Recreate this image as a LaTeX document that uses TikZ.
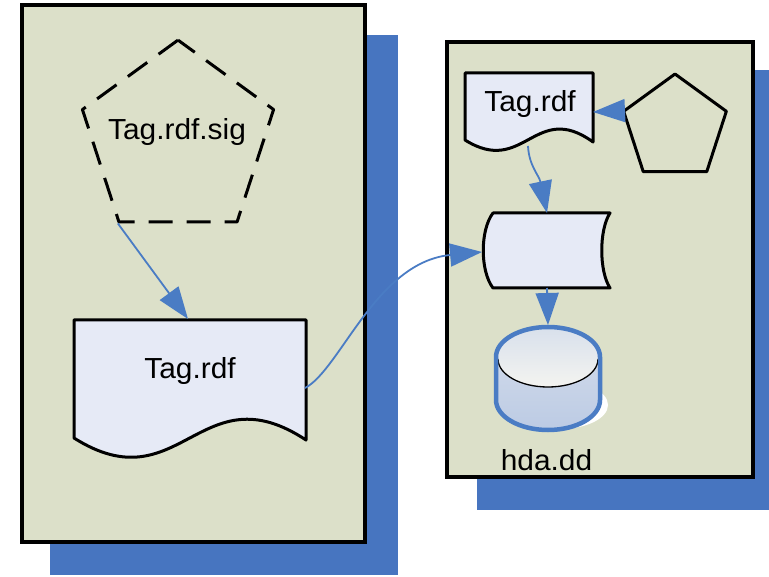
\documentclass[tikz,border=0pt]{standalone}
\usepackage{fontspec}
\setmainfont{Liberation Sans}[FakeStretch=1.03]
\usetikzlibrary{shapes.geometric,arrows.meta}
\definecolor{panelfill}{RGB}{220,224,201}
\definecolor{shadowblue}{RGB}{71,117,192}
\definecolor{docfill}{RGB}{230,234,246}
\definecolor{linkblue}{RGB}{74,124,196}
\definecolor{dbbodytop}{RGB}{214,222,236}
\definecolor{dbbodybot}{RGB}{188,203,228}
\definecolor{dbfacetop}{RGB}{216,224,236}
\definecolor{dbfacebot}{RGB}{244,244,240}
\begin{document}
\begin{tikzpicture}[x=1pt,y=1pt,
  panel/.style={draw=black, line width=4pt, fill=panelfill, rectangle, inner sep=0pt},
  panelshadow/.style={fill=shadowblue, rectangle, inner sep=0pt},
  shapeline/.style={draw=black, line width=3pt, line join=round},
  docshape/.style={shapeline, fill=docfill},
  pentagon/.style={regular polygon, regular polygon sides=5, inner sep=0pt, draw=black, line width=3pt, line join=round},
  link/.style={draw=linkblue, line width=1.8pt, -{Triangle[length=32pt,width=23pt]}},
  label/.style={font=\fontsize{29}{34}\selectfont, anchor=base, inner sep=0pt}
]
\useasboundingbox (0,0) rectangle (769,-577);

% left container with its shadow
\node[panelshadow, minimum width=348pt, minimum height=540pt] (lshadow) at (224,-305) {};
\node[panel, minimum width=342.5pt, minimum height=536pt] (lpanel) at (193.25,-273.5) {};

% right container with its shadow
\fill[shadowblue] (477,-70) rectangle (769,-510);
\node[panel, minimum width=306pt, minimum height=435pt] (rpanel) at (600,-259.5) {};

% signature (dashed pentagon)
\node[pentagon, minimum size=201pt, dash pattern=on 24pt off 14pt] (sig) at (178,-140.6) {};
\node[label] (sigtext) at (177,-140) {Tag.rdf.sig};

% left document
\draw[docshape] (74,-320) -- (306,-320) -- (306,-440)
  .. controls (200,-370) and (180,-505) .. (74,-438) -- cycle;
\coordinate (doctop) at (188,-319);
\coordinate (docright) at (305,-388);
\node[label] (doctext) at (190,-379) {Tag.rdf};

% right document
\draw[docshape] (465,-73) -- (593,-73) -- (593,-142)
  .. controls (535,-100) and (524,-177) .. (465,-140) -- cycle;
\coordinate (rdocright) at (593,-112);
\coordinate (rdocbot) at (528,-146);
\node[label] (rdoctext) at (530,-112) {Tag.rdf};

% solid pentagon
\node[pentagon, minimum size=108pt] (key) at (675,-128) {};

% stored data shape
\draw[docshape] (493,-213) -- (610,-213)
  .. controls (599,-230) and (599,-271) .. (610,-288) -- (493,-288)
  .. controls (480,-271) and (480,-230) .. (493,-213) -- cycle;
\coordinate (sdtop) at (547,-213);
\coordinate (sdleft) at (482,-252);
\coordinate (sdbot) at (547,-288);

% database cylinder
\fill[white] (560,-405) ellipse [x radius=48, y radius=24];
\shade[top color=dbbodytop, bottom color=dbbodybot]
  (496,-357) -- (496,-400) arc[start angle=180, end angle=360, x radius=52, y radius=30]
  -- (600,-357) arc[start angle=0, end angle=180, x radius=52, y radius=30] -- cycle;
\shade[top color=dbfacetop, bottom color=dbfacebot] (548,-357) ellipse [x radius=52, y radius=30];
\draw[black, line width=1.3pt] (498,-359) arc[start angle=180, end angle=360, x radius=50, y radius=28];
\draw[linkblue, line width=4.5pt]
  (496,-357) arc[start angle=180, end angle=0, x radius=52, y radius=30]
  -- (600,-400) arc[start angle=0, end angle=-180, x radius=52, y radius=30] -- cycle;
\coordinate (dbtop) at (548,-325);
\node[label] (dbtext) at (546.5,-470) {hda.dd};

% connectors
\draw[link] (sig.corner 3) -- (doctop);
\draw[link] (docright) .. controls +(35,18) and +(-106,-10) .. (sdleft);
\draw[link] (key.corner 2) -- (rdocright);
\draw[link] (rdocbot) .. controls +(1,-20) and +(-8,38) .. (sdtop);
\draw[link] (sdbot) -- (dbtop);
\end{tikzpicture}
\end{document}
